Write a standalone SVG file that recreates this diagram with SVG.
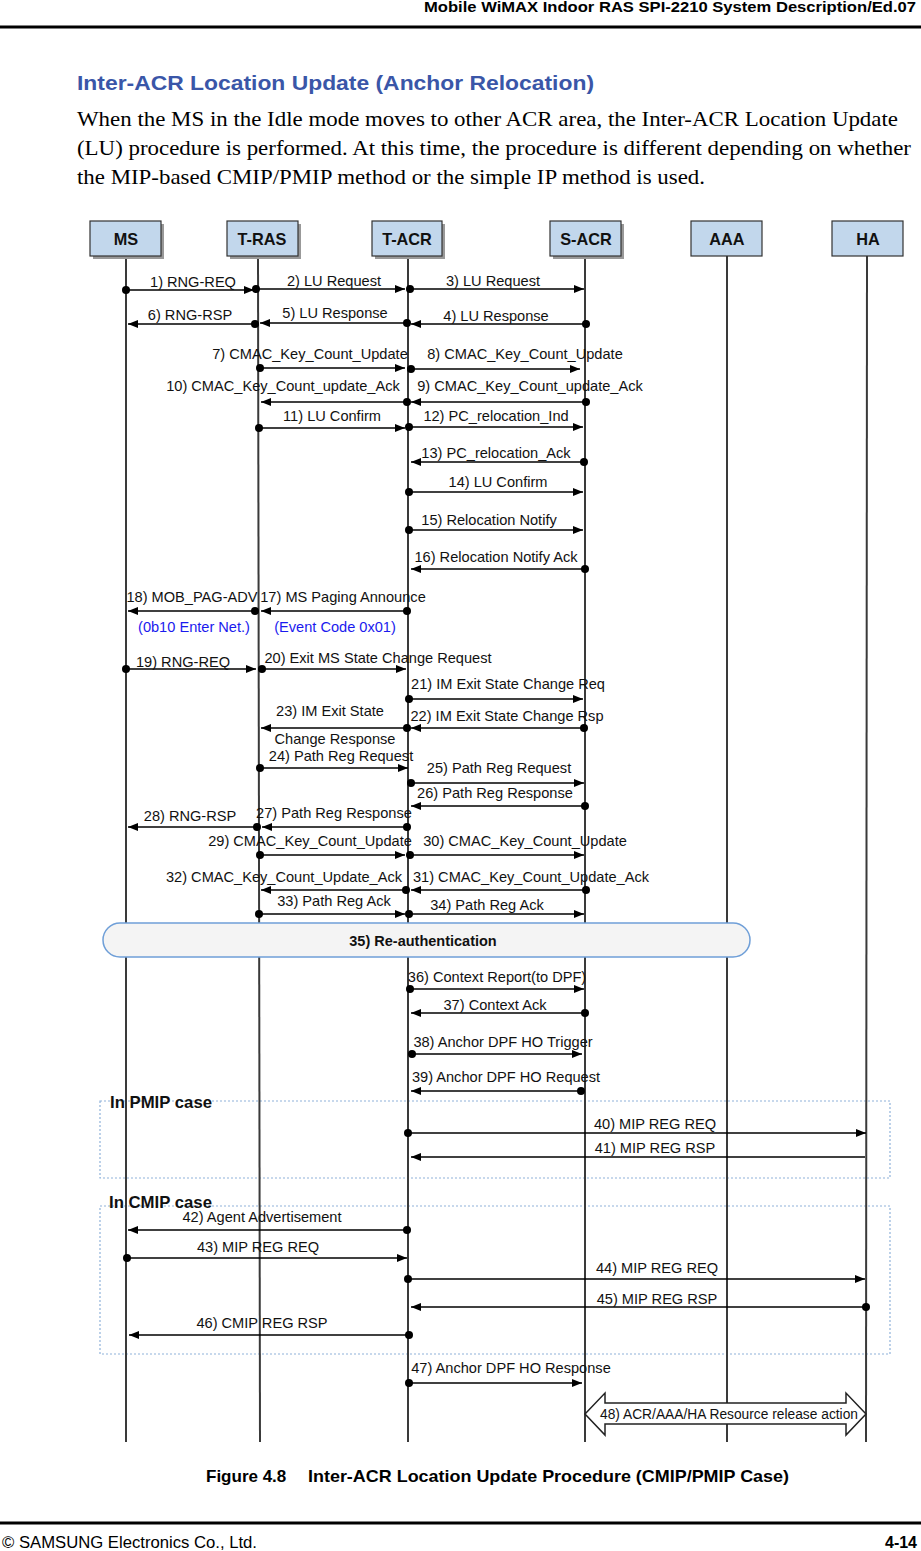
<svg xmlns="http://www.w3.org/2000/svg" width="921" height="1551" viewBox="0 0 921 1551">
<style>
.hdr{font-family:"Liberation Sans",Arial,sans-serif;font-weight:bold;font-size:15px;fill:#000}
.ttl{font-family:"Liberation Sans",Arial,sans-serif;font-weight:bold;font-size:21px;fill:#3a56a8}
.para{font-family:"Liberation Serif","Times New Roman",serif;font-size:22px;fill:#000}
.box{fill:#c2d7ec;stroke:#333;stroke-width:1.2}
.shadow{fill:#999}
.bl{font-family:"Liberation Sans",Arial,sans-serif;font-weight:bold;font-size:16.3px;fill:#111;text-anchor:middle}
.life{stroke:#3a3a3a;stroke-width:2;fill:none}
.msg{stroke:#000;stroke-width:1.5;fill:none;marker-start:url(#dot);marker-end:url(#arr)}
.msgn{stroke:#000;stroke-width:1.5;fill:none;marker-end:url(#arr)}
.lbc{font-family:"Liberation Sans",Arial,sans-serif;font-size:14.6px;fill:#111;text-anchor:middle}
.blue{font-family:"Liberation Sans",Arial,sans-serif;font-size:14.6px;fill:#1a1aee;text-anchor:middle}
.case{fill:none;stroke:#8fb2da;stroke-width:1.2;stroke-dasharray:2 2}
.cl{font-family:"Liberation Sans",Arial,sans-serif;font-weight:bold;font-size:16.5px;fill:#111}
.cap{font-family:"Liberation Sans",Arial,sans-serif;font-weight:bold;font-size:17px;fill:#000}
.ft{font-family:"Liberation Sans",Arial,sans-serif;font-size:16px;fill:#000}
</style>
<defs>
<marker id="arr" markerUnits="userSpaceOnUse" markerWidth="10" markerHeight="8" refX="10" refY="4" orient="auto">
<path d="M0,0 L10,4 L0,8 z" fill="#000"/>
</marker>
<marker id="dot" markerUnits="userSpaceOnUse" markerWidth="10" markerHeight="10" refX="5" refY="5" orient="auto">
<circle cx="5" cy="5" r="4" fill="#000"/>
</marker>
</defs>
<rect width="921" height="1551" fill="#fff"/>

<!-- header -->
<text class="hdr" x="916" y="12" text-anchor="end" textLength="492" lengthAdjust="spacingAndGlyphs">Mobile WiMAX Indoor RAS SPI-2210 System Description/Ed.07</text>
<line x1="0" y1="27" x2="921" y2="27" stroke="#000" stroke-width="3"/>

<text class="ttl" x="77" y="90" textLength="517" lengthAdjust="spacingAndGlyphs">Inter-ACR Location Update (Anchor Relocation)</text>
<text class="para" x="77" y="126" textLength="821" lengthAdjust="spacingAndGlyphs">When the MS in the Idle mode moves to other ACR area, the Inter-ACR Location Update</text>
<text class="para" x="77" y="155" textLength="834" lengthAdjust="spacingAndGlyphs">(LU) procedure is performed. At this time, the procedure is different depending on whether</text>
<text class="para" x="77" y="184" textLength="628" lengthAdjust="spacingAndGlyphs">the MIP-based CMIP/PMIP method or the simple IP method is used.</text>

<!-- case boxes -->
<g id="pmip">
<rect class="case" x="100" y="1101" width="790" height="77"/>
</g>
<g id="cmip">
<rect class="case" x="100" y="1206" width="790" height="148"/>
</g>

<!-- nodes -->
<g id="MS">
<line class="life" x1="126" y1="256" x2="126" y2="1442"/>
<rect class="shadow" x="93" y="224" width="71" height="35"/>
<rect class="box" x="90" y="221" width="71" height="35"/>
<text class="bl" x="126" y="245">MS</text>
</g>
<g id="T-RAS">
<line class="life" x1="258" y1="256" x2="260" y2="1442"/>
<rect class="shadow" x="230" y="224" width="71" height="35"/>
<rect class="box" x="227" y="221" width="71" height="35"/>
<text class="bl" x="262" y="245">T-RAS</text>
</g>
<g id="T-ACR">
<line class="life" x1="408" y1="256" x2="408" y2="1442"/>
<rect class="shadow" x="375" y="224" width="70" height="35"/>
<rect class="box" x="372" y="221" width="70" height="35"/>
<text class="bl" x="407" y="245">T-ACR</text>
</g>
<g id="S-ACR">
<line class="life" x1="585" y1="256" x2="585" y2="1442"/>
<rect class="shadow" x="553" y="224" width="71" height="35"/>
<rect class="box" x="550" y="221" width="71" height="35"/>
<text class="bl" x="586" y="245">S-ACR</text>
</g>
<g id="AAA">
<line class="life" x1="727" y1="256" x2="727" y2="1442"/>
<rect class="box" x="691" y="221" width="71" height="35"/>
<text class="bl" x="727" y="245">AAA</text>
</g>
<g id="HA">
<line class="life" x1="867" y1="256" x2="866" y2="1442"/>
<rect class="box" x="832" y="221" width="71" height="35"/>
<text class="bl" x="868" y="245">HA</text>
</g>

<!-- 35 re-authentication -->
<g id="reauth">
<rect x="103" y="923" width="647" height="34" rx="17" fill="#f4f4f4" stroke="#6f9fd8" stroke-width="1.5"/>
<text class="bl" x="423" y="946" style="font-size:14.5px">35) Re-authentication</text>
</g>

<!-- 48 block arrow -->
<g id="release">
<path d="M585,1414 L605,1393 L605,1403 L846,1403 L846,1393 L866,1414 L846,1435 L846,1424 L605,1424 L605,1435 Z" fill="#fff" stroke="#222" stroke-width="1.5"/>
<text class="lbc" x="729" y="1419" textLength="258" lengthAdjust="spacingAndGlyphs" style="font-size:14px">48) ACR/AAA/HA Resource release action</text>
</g>

<!-- connectors -->
<g id="connectors">
<line class="msg" x1="126" y1="290" x2="254" y2="290"/>
<line class="msg" x1="256" y1="289" x2="405" y2="289"/>
<line class="msg" x1="410" y1="289" x2="584" y2="289"/>
<line class="msg" x1="586" y1="324" x2="411" y2="324"/>
<line class="msg" x1="407" y1="323" x2="260" y2="323"/>
<line class="msg" x1="255" y1="324" x2="128" y2="324"/>
<line class="msg" x1="260" y1="368" x2="405" y2="368"/>
<line class="msg" x1="411" y1="369" x2="580" y2="369"/>
<line class="msg" x1="586" y1="402" x2="411" y2="402"/>
<line class="msg" x1="407" y1="402" x2="261" y2="402"/>
<line class="msg" x1="259" y1="428" x2="405" y2="428"/>
<line class="msg" x1="409" y1="427" x2="583" y2="427"/>
<line class="msg" x1="584" y1="462" x2="411" y2="462"/>
<line class="msg" x1="409" y1="492" x2="583" y2="492"/>
<line class="msg" x1="409" y1="530" x2="583" y2="530"/>
<line class="msg" x1="585" y1="569" x2="411" y2="569"/>
<line class="msg" x1="407" y1="611" x2="261" y2="611"/>
<line class="msg" x1="255" y1="611" x2="128" y2="611"/>
<line class="msg" x1="126" y1="669" x2="256" y2="669"/>
<line class="msg" x1="262" y1="669" x2="406" y2="669"/>
<line class="msg" x1="409" y1="699" x2="583" y2="699"/>
<line class="msg" x1="584" y1="728" x2="411" y2="728"/>
<line class="msg" x1="407" y1="728" x2="261" y2="728"/>
<line class="msg" x1="260" y1="768" x2="408" y2="768"/>
<line class="msg" x1="411" y1="783" x2="584" y2="783"/>
<line class="msg" x1="585" y1="806" x2="411" y2="806"/>
<line class="msg" x1="407" y1="827" x2="262" y2="827"/>
<line class="msg" x1="257" y1="827" x2="128" y2="827"/>
<line class="msg" x1="260" y1="855" x2="405" y2="855"/>
<line class="msg" x1="410" y1="855" x2="584" y2="855"/>
<line class="msg" x1="586" y1="890" x2="411" y2="890"/>
<line class="msg" x1="406" y1="890" x2="261" y2="890"/>
<line class="msg" x1="259" y1="914" x2="405" y2="914"/>
<line class="msg" x1="409" y1="914" x2="584" y2="914"/>
<line class="msg" x1="410" y1="989" x2="584" y2="989"/>
<line class="msg" x1="585" y1="1013" x2="411" y2="1013"/>
<line class="msg" x1="412" y1="1054" x2="582" y2="1054"/>
<line class="msg" x1="581" y1="1091" x2="411" y2="1091"/>
<line class="msg" x1="408" y1="1133" x2="866" y2="1133"/>
<line class="msgn" x1="865" y1="1157" x2="411" y2="1157"/>
<line class="msg" x1="407" y1="1230" x2="128" y2="1230"/>
<line class="msg" x1="127" y1="1258" x2="407" y2="1258"/>
<line class="msg" x1="408" y1="1279" x2="865" y2="1279"/>
<line class="msg" x1="866" y1="1307" x2="411" y2="1307"/>
<line class="msg" x1="409" y1="1335" x2="129" y2="1335"/>
<line class="msg" x1="409" y1="1383" x2="582" y2="1383"/>
</g>

<!-- labels -->
<g id="labels">
<text class="lbc" x="193" y="287">1) RNG-REQ</text>
<text class="lbc" x="334" y="286">2) LU Request</text>
<text class="lbc" x="493" y="286">3) LU Request</text>
<text class="lbc" x="496" y="321">4) LU Response</text>
<text class="lbc" x="335" y="318">5) LU Response</text>
<text class="lbc" x="190" y="320">6) RNG-RSP</text>
<text class="lbc" x="310" y="359">7) CMAC_Key_Count_Update</text>
<text class="lbc" x="525" y="359">8) CMAC_Key_Count_Update</text>
<text class="lbc" x="530" y="391">9) CMAC_Key_Count_update_Ack</text>
<text class="lbc" x="283" y="391">10) CMAC_Key_Count_update_Ack</text>
<text class="lbc" x="332" y="421">11) LU Confirm</text>
<text class="lbc" x="496" y="421">12) PC_relocation_Ind</text>
<text class="lbc" x="496" y="458">13) PC_relocation_Ack</text>
<text class="lbc" x="498" y="487">14) LU Confirm</text>
<text class="lbc" x="489" y="525">15) Relocation Notify</text>
<text class="lbc" x="496" y="562">16) Relocation Notify Ack</text>
<text class="lbc" x="343" y="602">17) MS Paging Announce</text>
<text class="lbc" x="192" y="602">18) MOB_PAG-ADV</text>
<text class="blue" x="194" y="632">(0b10 Enter Net.)</text>
<text class="blue" x="335" y="632">(Event Code 0x01)</text>
<text class="lbc" x="183" y="667">19) RNG-REQ</text>
<text class="lbc" x="378" y="663">20) Exit MS State Change Request</text>
<text class="lbc" x="508" y="689">21) IM Exit State Change Req</text>
<text class="lbc" x="507" y="721">22) IM Exit State Change Rsp</text>
<text class="lbc" x="330" y="716">23) IM Exit State</text>
<text class="lbc" x="335" y="744">Change Response</text>
<text class="lbc" x="341" y="761">24) Path Reg Request</text>
<text class="lbc" x="499" y="773">25) Path Reg Request</text>
<text class="lbc" x="495" y="798">26) Path Reg Response</text>
<text class="lbc" x="334" y="818">27) Path Reg Response</text>
<text class="lbc" x="190" y="821">28) RNG-RSP</text>
<text class="lbc" x="310" y="846">29) CMAC_Key_Count_Update</text>
<text class="lbc" x="525" y="846">30) CMAC_Key_Count_Update</text>
<text class="lbc" x="531" y="882">31) CMAC_Key_Count_Update_Ack</text>
<text class="lbc" x="284" y="882">32) CMAC_Key_Count_Update_Ack</text>
<text class="lbc" x="334" y="906">33) Path Reg Ack</text>
<text class="lbc" x="487" y="910">34) Path Reg Ack</text>
<text class="lbc" x="497" y="982">36) Context Report(to DPF)</text>
<text class="lbc" x="495" y="1010">37) Context Ack</text>
<text class="lbc" x="503" y="1047">38) Anchor DPF HO Trigger</text>
<text class="lbc" x="506" y="1082">39) Anchor DPF HO Request</text>
<text class="cl" x="110" y="1108" textLength="102" lengthAdjust="spacingAndGlyphs">In PMIP case</text>
<text class="lbc" x="655" y="1129">40) MIP REG REQ</text>
<text class="lbc" x="655" y="1153">41) MIP REG RSP</text>
<text class="cl" x="109" y="1208" textLength="103" lengthAdjust="spacingAndGlyphs">In CMIP case</text>
<text class="lbc" x="262" y="1222">42) Agent Advertisement</text>
<text class="lbc" x="258" y="1252">43) MIP REG REQ</text>
<text class="lbc" x="657" y="1273">44) MIP REG REQ</text>
<text class="lbc" x="657" y="1304">45) MIP REG RSP</text>
<text class="lbc" x="262" y="1328">46) CMIP REG RSP</text>
<text class="lbc" x="511" y="1373">47) Anchor DPF HO Response</text>
</g>

<!-- caption & footer -->
<text class="cap" x="206" y="1482">Figure 4.8</text>
<text class="cap" x="308" y="1482" textLength="481" lengthAdjust="spacingAndGlyphs">Inter-ACR Location Update Procedure (CMIP/PMIP Case)</text>
<line x1="0" y1="1523" x2="921" y2="1523" stroke="#000" stroke-width="3"/>
<text class="ft" x="2" y="1548" textLength="255" lengthAdjust="spacingAndGlyphs">© SAMSUNG Electronics Co., Ltd.</text>
<text class="ft" x="917" y="1548" text-anchor="end" font-weight="bold" textLength="32" lengthAdjust="spacingAndGlyphs">4-14</text>
</svg>
